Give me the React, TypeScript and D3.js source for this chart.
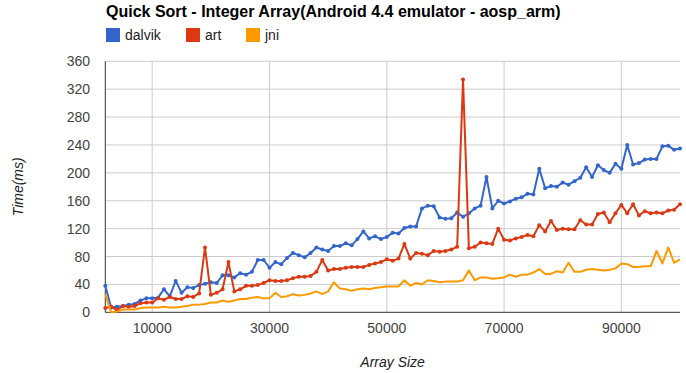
import React from "react";
import * as d3 from "d3";

const xValues: number[] = d3.range(2000, 100001, 1000);

const dalvik: number[] = [
  38, 7, 8, 9, 11, 12, 17, 20, 20, 21, 33, 23, 45, 28, 36, 35, 39, 41, 43, 42,
  53, 53, 50, 56, 54, 58, 75, 75, 64, 72, 69, 78, 85, 82, 79, 85, 93, 90, 88, 95,
  95, 99, 96, 105, 116, 106, 109, 105, 108, 114, 113, 121, 123, 123, 149, 153, 152, 136, 134, 135,
  143, 137, 142, 149, 153, 194, 149, 160, 156, 159, 163, 165, 170, 169, 206, 178, 181, 180, 186, 183,
  188, 193, 208, 194, 211, 204, 200, 213, 206, 240, 212, 214, 219, 220, 220, 238, 239, 233, 235,
];

const art: number[] = [
  6, 8, 3, 9, 8, 9, 13, 14, 14, 20, 18, 22, 19, 19, 23, 22, 27, 93, 25, 28,
  33, 72, 30, 33, 38, 38, 39, 42, 46, 45, 45, 46, 49, 51, 51, 52, 58, 75, 60, 62,
  62, 64, 65, 65, 65, 68, 70, 72, 76, 74, 77, 98, 77, 85, 84, 82, 88, 87, 88, 90,
  94, 334, 92, 94, 100, 99, 98, 120, 104, 103, 106, 108, 111, 109, 125, 116, 131, 118, 120, 119,
  119, 132, 126, 126, 141, 143, 129, 142, 154, 142, 155, 139, 145, 142, 143, 142, 146, 147, 155,
];

const jni: number[] = [
  26, 0, 1, 4, 4, 4, 6, 7, 7, 7, 8, 7, 7, 8, 9, 11, 11, 12, 14, 14,
  17, 15, 17, 19, 19, 21, 22, 20, 20, 28, 22, 23, 26, 24, 25, 27, 30, 26, 30, 43,
  34, 33, 31, 33, 34, 33, 35, 36, 37, 37, 37, 46, 38, 42, 40, 46, 45, 43, 44, 44,
  44, 46, 60, 46, 50, 50, 48, 49, 50, 54, 51, 54, 54, 57, 62, 55, 55, 59, 57, 71,
  58, 58, 61, 62, 61, 60, 61, 63, 70, 69, 65, 65, 66, 66, 88, 70, 93, 71, 76,
];

const seriesNames: string[] = ["dalvik", "art", "jni"];
const seriesColors: string[] = ["#3366cc", "#dc3912", "#ff9900"];
const seriesMarkers: boolean[] = [true, true, false];
const yTicks: number[] = [0, 40, 80, 120, 160, 200, 240, 280, 320, 360];
const xTicks: number[] = [10000, 30000, 50000, 70000, 90000];

const W = 686;
const H = 373;
const left = 105.3;
const right = 680;
const top = 61.3;
const bottom = 312.3;

export default function App() {
  const x = d3.scaleLinear().domain([2000, 100000]).range([left, right]);
  const y = d3.scaleLinear().domain([0, 360]).range([bottom, top]);
  const allSeries = [dalvik, art, jni];
  const line = d3
    .line<number>()
    .x((_, i) => x(xValues[i]))
    .y((d) => y(d));

  const legendX = [106, 186, 246];

  return (
    <svg
      width={W}
      height={H}
      style={{ position: "absolute", left: 0, top: 0, background: "#fff" }}
      fontFamily="Arial, 'Liberation Sans', sans-serif"
    >
      <rect x={0} y={0} width={W} height={H} fill="#fff" />
      <text x={106} y={17} fontSize={16} fontWeight="bold" fill="#000">
        Quick Sort - Integer Array(Android 4.4 emulator - aosp_arm)
      </text>
      {seriesNames.map((n, i) => (
        <g key={n}>
          <rect x={legendX[i]} y={28} width={14} height={14} fill={seriesColors[i]} />
          <text x={legendX[i] + 19} y={40} fontSize={14} fill="#222">
            {n}
          </text>
        </g>
      ))}
      {yTicks.map((t) => (
        <g key={"y" + t}>
          {t !== 0 && (
            <line x1={left} x2={right} y1={y(t)} y2={y(t)} stroke="#cccccc" strokeWidth={1} />
          )}
          <text x={90} y={y(t) + 5} fontSize={14} textAnchor="end" fill="#444">
            {t}
          </text>
        </g>
      ))}
      {xTicks.map((t) => (
        <g key={"x" + t}>
          <line x1={x(t)} x2={x(t)} y1={top} y2={bottom} stroke="#cccccc" strokeWidth={1} />
          <text x={x(t)} y={333} fontSize={14} textAnchor="middle" fill="#444">
            {t}
          </text>
        </g>
      ))}
      <line x1={left} x2={left} y1={top} y2={bottom} stroke="#333" strokeWidth={1} />
      <line x1={left} x2={right} y1={bottom} y2={bottom} stroke="#333" strokeWidth={1} />
      {allSeries.map((s, si) => (
        <g key={"s" + si}>
          <path d={line(s) || ""} fill="none" stroke={seriesColors[si]} strokeWidth={2} strokeLinejoin="round" />
          {seriesMarkers[si] &&
            s.map((v, i) => (
              <circle key={i} cx={x(xValues[i])} cy={y(v)} r={2} fill={seriesColors[si]} />
            ))}
        </g>
      ))}
      <text x={392.6} y={367} fontSize={14} fontStyle="italic" textAnchor="middle" fill="#222">
        Array Size
      </text>
      <text
        transform={`translate(23, ${(top + bottom) / 2}) rotate(-90)`}
        fontSize={14}
        fontStyle="italic"
        textAnchor="middle"
        fill="#222"
      >
        Time(ms)
      </text>
    </svg>
  );
}
